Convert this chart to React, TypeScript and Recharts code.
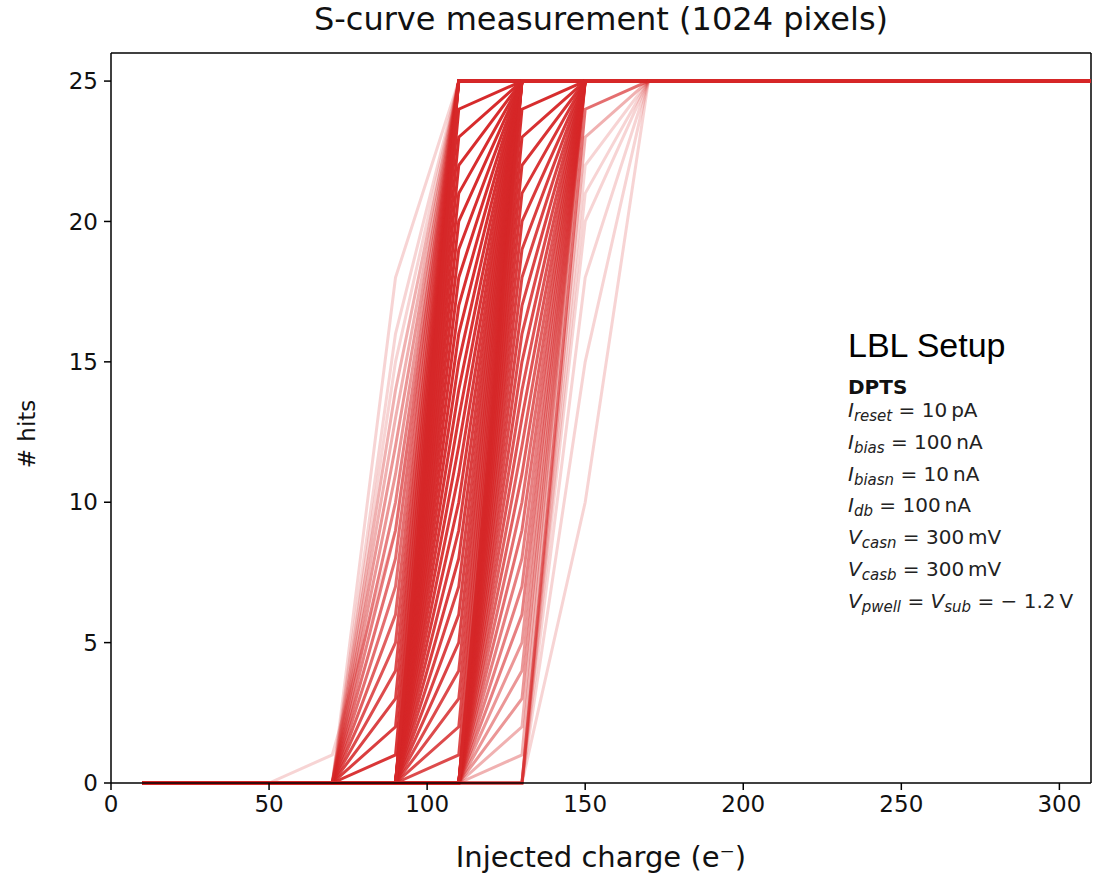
import { LineChart, Line, XAxis, YAxis, ReferenceLine } from 'recharts';

// injected charge steps (e-)
const charges: number[] = [10, 30, 50, 70, 90, 110, 130, 150, 170, 190, 210, 230, 250, 270, 290, 310];

const xTicks = [0, 50, 100, 150, 200, 250, 300];
const yTicks = [0, 5, 10, 15, 20, 25];

// pixels that go 0 @70 -> mid @90 -> 25 @110
const groupAMid = [1, 2, 3, 4, 5, 6, 7, 8, 9, 10, 11, 12, 13, 14, 15, 16, 18];
const groupACount = [12, 10, 9, 8, 7, 6, 5, 5, 4, 4, 3, 3, 2, 2, 1, 1, 1];

// 0 @90 -> mid @110 -> 25 @130
const groupBMid = [1, 2, 3, 4, 5, 6, 7, 8, 9, 10, 11, 12, 13, 14, 15, 16, 17, 18, 19, 20, 21, 22, 23, 24, 25];
const groupBCount = [8, 8, 8, 8, 9, 9, 9, 10, 10, 11, 11, 12, 12, 13, 13, 14, 14, 15, 15, 16, 16, 17, 18, 20, 30];

// 0 @110 -> mid @130 -> 25 @150
const groupCMid = [1, 2, 3, 4, 5, 6, 7, 8, 9, 10, 11, 12, 13, 14, 15, 16, 17, 18, 19, 20, 21, 22, 23, 24, 25];
const groupCCount = [2, 2, 3, 3, 3, 4, 4, 4, 5, 5, 6, 6, 7, 7, 8, 8, 9, 9, 10, 11, 12, 13, 14, 16, 20];

// 0 @130 -> mid @150 -> 25 @170
const groupDMid = [10, 15, 18, 20, 21, 22, 23, 24];
const groupDCount = [1, 1, 1, 1, 1, 1, 2, 5];

// odd single pixel: 0 @50, 1 @70, 9 @90, 25 @110
const oddCurve = [0, 0, 0, 1, 9, 25, 25, 25, 25, 25, 25, 25, 25, 25, 25, 25];

type Curve = { key: string; lastZero: number; mid: number; count: number };

const curves: Curve[] = [];
const addGroup = (name: string, lastZero: number, mids: number[], counts: number[]) => {
  mids.forEach((m, i) => curves.push({ key: `${name}${i}`, lastZero, mid: m, count: counts[i] }));
};
addGroup('a', 70, groupAMid, groupACount);
addGroup('b', 90, groupBMid, groupBCount);
addGroup('c', 110, groupCMid, groupCCount);
addGroup('d', 130, groupDMid, groupDCount);

const data = charges.map((q, i) => {
  const row: Record<string, number> = { charge: q, odd: oddCurve[i] };
  curves.forEach(c => {
    row[c.key] = q <= c.lastZero ? 0 : q === c.lastZero + 20 ? c.mid : 25;
  });
  return row;
});

const RED = '#d62728';
const alphaFor = (n: number) => 1 - Math.pow(1 - 0.2, n);

const font = '"DejaVu Sans", sans-serif';

const Sym = ({ v, s }: { v: string; s: string }) => (
  <span>
    <i>{v}</i>
    <span style={{ fontSize: 15, fontStyle: 'italic', position: 'relative', top: 4 }}>{s}</span>
  </span>
);

const params: { v: string; s: string; rest: string }[] = [
  { v: 'I', s: 'reset', rest: '= 10\u2009pA' },
  { v: 'I', s: 'bias', rest: '= 100\u2009nA' },
  { v: 'I', s: 'biasn', rest: '= 10\u2009nA' },
  { v: 'I', s: 'db', rest: '= 100\u2009nA' },
  { v: 'V', s: 'casn', rest: '= 300\u2009mV' },
  { v: 'V', s: 'casb', rest: '= 300\u2009mV' },
];

export default function App() {
  return (
    <div style={{ position: 'absolute', left: 0, top: 0, width: 1102, height: 879, background: '#fff', fontFamily: font }}>
      <div style={{ position: 'absolute', left: 111, width: 980, top: 0, textAlign: 'center', fontSize: 32, color: '#111', whiteSpace: 'nowrap' }}>
        S-curve measurement (1024 pixels)
      </div>
      <LineChart width={1102} height={879} data={data} margin={{ top: 53, right: 11, left: 0, bottom: 0 }}>
        <XAxis
          dataKey="charge"
          type="number"
          domain={[0, 310]}
          ticks={xTicks}
          tickSize={7}
          tickMargin={6}
          height={96}
          axisLine={{ stroke: '#000', strokeWidth: 1.5 }}
          tickLine={{ stroke: '#000', strokeWidth: 1.5 }}
          tick={{ fill: '#111', fontSize: 23, fontFamily: font }}
          label={{ value: 'Injected charge (e⁻)', position: 'insideBottom', offset: 12, style: { fill: '#111', fontSize: 29, fontFamily: font } }}
        />
        <YAxis
          type="number"
          domain={[0, 26]}
          ticks={yTicks}
          width={111}
          tickSize={7}
          tickMargin={6}
          axisLine={{ stroke: '#000', strokeWidth: 1.5 }}
          tickLine={{ stroke: '#000', strokeWidth: 1.5 }}
          tick={{ fill: '#111', fontSize: 23, fontFamily: font }}
          label={{ value: '# hits', angle: -90, position: 'insideLeft', offset: 27, dy: 16, style: { fill: '#111', fontSize: 23, fontFamily: font, textAnchor: 'middle' } }}
        />
        <ReferenceLine y={26} stroke="#000" strokeWidth={1.5} />
        <ReferenceLine x={310} stroke="#000" strokeWidth={1.5} />
        <Line dataKey="odd" stroke={RED} strokeOpacity={alphaFor(1)} strokeWidth={3} dot={false} isAnimationActive={false} type="linear" />
        {curves.map(c => (
          <Line
            key={c.key}
            dataKey={c.key}
            stroke={RED}
            strokeOpacity={alphaFor(c.count)}
            strokeWidth={3}
            dot={false}
            activeDot={false}
            isAnimationActive={false}
            type="linear"
          />
        ))}
      </LineChart>
      <div style={{ position: 'absolute', left: 848, top: 326, fontFamily: '"Liberation Sans", Arial, sans-serif', fontSize: 34, color: '#000' }}>
        LBL Setup
      </div>
      <div style={{ position: 'absolute', left: 848, top: 375, fontSize: 20, fontWeight: 'bold', color: '#111' }}>DPTS</div>
      {params.map((p, i) => (
        <div key={p.s} style={{ position: 'absolute', left: 848, top: 398 + i * 31.8, fontSize: 20, color: '#222', whiteSpace: 'nowrap' }}>
          <Sym v={p.v} s={p.s} /> {p.rest}
        </div>
      ))}
      <div style={{ position: 'absolute', left: 848, top: 398 + 6 * 31.8, fontSize: 20, color: '#222', whiteSpace: 'nowrap' }}>
        <Sym v="V" s="pwell" /> = <Sym v="V" s="sub" /> = − 1.2&thinsp;V
      </div>
    </div>
  );
}
